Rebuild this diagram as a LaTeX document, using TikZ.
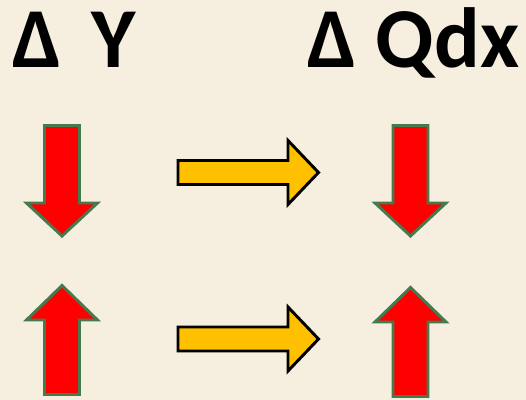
\documentclass[tikz,border=0pt]{standalone}
\usepackage{fontspec}
\setmainfont{Carlito}
\definecolor{bgpaper}{RGB}{246,238,222}
\definecolor{arrred}{RGB}{255,0,0}
\definecolor{arrgreen}{RGB}{68,122,78}
\definecolor{arrgold}{RGB}{255,192,0}
\begin{document}
\begin{tikzpicture}[x=0.75pt,y=-0.75pt,
  redarr/.style={fill=arrred,draw=arrgreen,line width=2.2pt},
  goldarr/.style={fill=arrgold,draw=black,line width=2.2pt},
  headline/.style={font=\bfseries\fontsize{64}{64}\selectfont,anchor=base west,inner sep=0pt}]
  \fill[bgpaper] (0,0) rectangle (526,400);
  \useasboundingbox (0,0) rectangle (526,400);
  % column titles
  \node[headline] (dy) at (12,67) {Δ\hspace{0.35em}Y};
  \node[headline] (dq) at (307,67) {Δ Qdx};
  % red arrows: falling (top row), rising (bottom row)
  \foreach \cx in {62,410.5} {
    \draw[redarr] (\cx-17.5,125.5) -- (\cx+17.5,125.5) -- (\cx+17.5,203)
      -- (\cx+35.5,203) -- (\cx,236) -- (\cx-35.5,203) -- (\cx-17.5,203) -- cycle;
  }
  \foreach \cx/\dy in {62/0,410.5/2} {
    \draw[redarr] (\cx,285.5+\dy) -- (\cx+35.5,320+\dy) -- (\cx+17.5,320+\dy)
      -- (\cx+17.5,394.5+\dy) -- (\cx-17.5,394.5+\dy) -- (\cx-17.5,320+\dy)
      -- (\cx-35.5,320+\dy) -- cycle;
  }
  % implication arrows
  \foreach \cy in {172.5,339} {
    \draw[goldarr] (178,\cy-12) -- (288,\cy-12) -- (288,\cy-32) -- (318.5,\cy)
      -- (288,\cy+32) -- (288,\cy+12) -- (178,\cy+12) -- cycle;
  }
\end{tikzpicture}
\end{document}
